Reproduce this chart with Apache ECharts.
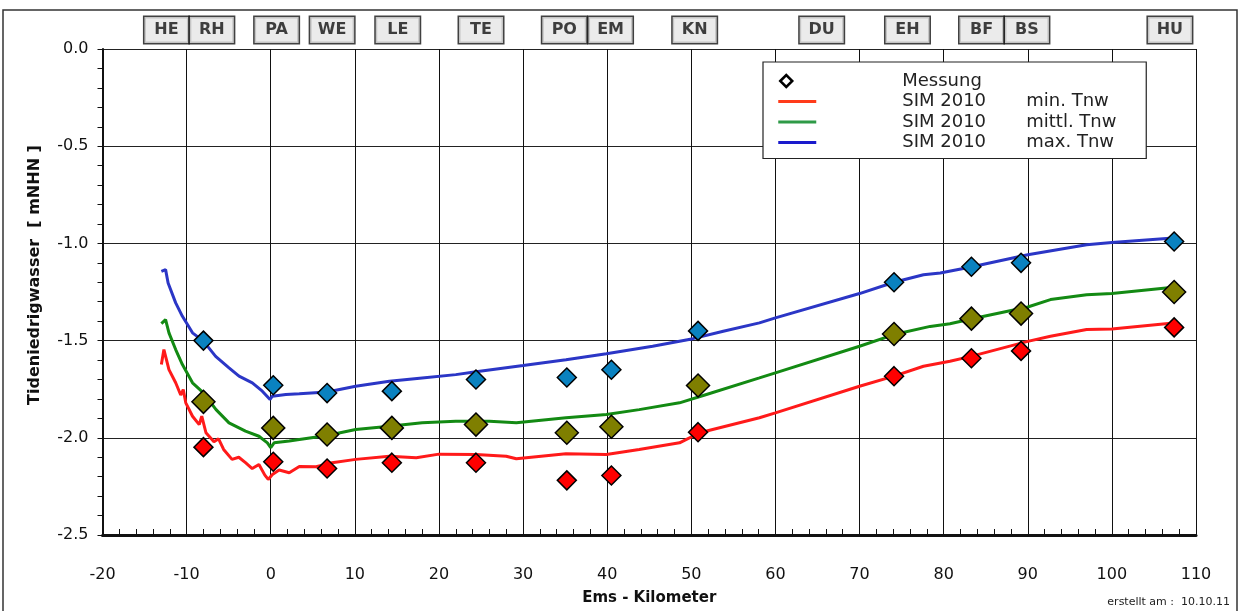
<!DOCTYPE html>
<html>
<head>
    <meta charset="utf-8">
    <title>Tideniedrigwasser Ems</title>
    <script src="https://cdn.jsdelivr.net/npm/echarts@6/dist/echarts.min.js"></script>
</head>
<body style="margin:0;background:#fff;">
<div id="main" style="width:1249px;height:611px;"></div>
<script type="text/javascript">

    // Pegelstationen (oben)
    var stationNames = ['HE', 'RH', 'PA', 'WE', 'LE', 'TE', 'PO', 'EM', 'KN', 'DU', 'EH', 'BF', 'BS', 'HU'];
    var stationKm = [-12.4, -7.0, 0.7, 7.3, 15.1, 25.0, 34.9, 40.4, 50.4, 65.5, 75.7, 84.5, 89.9, 106.9];

    // Messung an den Pegeln
    var measKm  = [-8.0, 0.3, 6.7, 14.4, 24.4, 35.2, 40.5, 50.8, 74.1, 83.3, 89.2, 107.4];
    var measMax = [-1.50, -1.73, -1.77, -1.76, -1.70, -1.69, -1.65, -1.45, -1.20, -1.12, -1.10, -0.99];
    var measMid = [-1.815, -1.949, -1.983, -1.949, -1.932, -1.974, -1.943, -1.731, -1.466, -1.387, -1.361, -1.25];
    var measMin = [-2.048, -2.123, -2.158, -2.128, -2.128, -2.219, -2.194, -1.971, -1.683, -1.591, -1.553, -1.432];

    // SIM 2010 Laengsschnitte [km, mNHN]
    var simMax = [[-13.0,-1.144],[-12.5,-1.135],[-12.2,-1.204],[-11.3,-1.306],[-10.5,-1.375],[-9.3,-1.46],
        [-8.0,-1.503],[-6.55,-1.581],[-4.96,-1.64],[-3.77,-1.683],[-2.19,-1.717],[-1.0,-1.76],[-0.08,-1.803],
        [0.19,-1.786],[1.8,-1.777],[3.4,-1.774],[6.7,-1.764],[10.1,-1.735],[14.1,-1.709],[18.0,-1.692],
        [22.0,-1.675],[24.4,-1.66],[30.0,-1.628],[35.1,-1.598],[39.9,-1.568],[45.4,-1.529],[50.2,-1.49],
        [53.8,-1.452],[58.1,-1.409],[60.0,-1.383],[70.0,-1.258],[74.1,-1.20],[77.6,-1.161],[79.6,-1.152],
        [83.25,-1.121],[90.0,-1.058],[97.0,-1.007],[100.0,-0.995],[107.3,-0.972]];
    var simMid = [[-13.0,-1.413],[-12.5,-1.392],[-12.1,-1.46],[-11.3,-1.546],[-10.5,-1.623],[-9.3,-1.717],
        [-8.0,-1.769],[-6.5,-1.855],[-4.96,-1.923],[-3.0,-1.966],[-1.4,-1.992],[-0.4,-2.026],[0.0,-2.051],
        [0.4,-2.026],[2.2,-2.017],[3.4,-2.009],[6.7,-1.988],[10.1,-1.957],[14.1,-1.94],[18.0,-1.923],
        [22.0,-1.915],[26.0,-1.915],[29.2,-1.923],[35.1,-1.897],[39.9,-1.88],[43.8,-1.855],[48.6,-1.82],
        [51.8,-1.777],[58.1,-1.692],[60.0,-1.666],[70.0,-1.529],[74.1,-1.469],[78.4,-1.427],[80.75,-1.413],
        [83.25,-1.389],[90.0,-1.327],[92.7,-1.289],[97.0,-1.264],[100.0,-1.258],[107.3,-1.226]];
    var simMin = [[-13.0,-1.623],[-12.7,-1.546],[-12.5,-1.538],[-12.1,-1.649],[-11.3,-1.717],[-10.7,-1.78],
        [-10.4,-1.752],[-10.1,-1.82],[-9.3,-1.889],[-8.5,-1.932],[-8.2,-1.889],[-7.7,-1.974],[-6.75,-2.02],
        [-6.2,-2.005],[-5.6,-2.06],[-4.6,-2.111],[-3.8,-2.10],[-3.0,-2.128],[-2.2,-2.158],[-1.4,-2.137],
        [-0.7,-2.192],[-0.3,-2.214],[0.2,-2.189],[1.0,-2.166],[2.2,-2.18],[3.4,-2.148],[5.4,-2.149],
        [7.3,-2.128],[10.1,-2.111],[14.1,-2.095],[17.3,-2.103],[20.0,-2.084],[24.4,-2.086],[28.0,-2.095],
        [29.2,-2.108],[35.1,-2.082],[39.9,-2.086],[43.8,-2.06],[48.6,-2.026],[51.0,-1.974],[58.1,-1.897],
        [60.0,-1.872],[70.0,-1.735],[74.1,-1.683],[77.6,-1.632],[80.75,-1.606],[83.25,-1.581],[90.0,-1.504],
        [92.7,-1.478],[97.0,-1.443],[100.0,-1.44],[107.3,-1.409]];

    var font = 'DejaVu Sans';
    var myChart = echarts.init(document.getElementById('main'));

    function pairs(xs, ys) {
        return xs.map(function (x, i) { return [x, ys[i]]; });
    }

    function measSeries(values, color, size) {
        return {
            name: 'Messung',
            type: 'scatter',
            symbol: 'diamond',
            symbolSize: size,
            z: 5,
            itemStyle: { color: color, borderColor: '#000', borderWidth: 1.5, opacity: 1 },
            data: pairs(measKm, values)
        };
    }

    function simSeries(name, data, color) {
        return {
            name: name,
            type: 'line',
            symbol: 'none',
            showSymbol: false,
            z: 3,
            lineStyle: { color: color, width: 3 },
            itemStyle: { color: color },
            data: data
        };
    }

    var lineIcon = 'path://M0,5.6L38,5.6L38,8.4L0,8.4Z M0,0 M38,14';

    option = {
        animation: false,
        backgroundColor: '#fff',
        grid: { left: 102.5, right: 53, top: 49, bottom: 75.5 },
        xAxis: {
            type: 'value',
            min: -20, max: 110, interval: 10,
            name: 'Ems - Kilometer',
            nameLocation: 'middle',
            nameGap: 56,
            nameTextStyle: { fontFamily: font, fontSize: 15, fontWeight: 'bold', color: '#111' },
            axisLine: { onZero: false, lineStyle: { color: '#111', width: 3 } },
            axisTick: { show: true, inside: true, length: 6, lineStyle: { color: '#111' } },
            minorTick: { show: true, splitNumber: 5, length: 6, lineStyle: { color: '#111', width: 1 } },
            axisLabel: { fontFamily: font, fontSize: 16, color: '#111', margin: 32 },
            splitLine: { show: true, lineStyle: { color: '#111', width: 1 } }
        },
        yAxis: {
            type: 'value',
            min: -2.5, max: 0, interval: 0.5,
            name: 'Tideniedrigwasser  [ mNHN ]',
            nameLocation: 'middle',
            nameGap: 60,
            nameTextStyle: { fontFamily: font, fontSize: 16, fontWeight: 'bold', color: '#111', padding: [0, 0, 0, 34] },
            axisLine: { show: true, onZero: false, lineStyle: { color: '#111', width: 2 } },
            axisTick: { show: true, inside: false, length: 5, lineStyle: { color: '#111' } },
            minorTick: { show: true, splitNumber: 5, length: 5, lineStyle: { color: '#111', width: 1 } },
            axisLabel: {
                fontFamily: font, fontSize: 16, color: '#111', margin: 14,
                formatter: function (v) { return v.toFixed(1); }
            },
            splitLine: { show: true, lineStyle: { color: '#222', width: 1.2 } }
        },
        legend: {
            orient: 'vertical',
            left: 763, top: 62,
            padding: [10, 10, 7, 14],
            itemGap: 2.5,
            itemWidth: 38, itemHeight: 14,
            backgroundColor: '#fff',
            borderColor: '#222', borderWidth: 1.2,
            selectedMode: false,
            z: 10,
            textStyle: {
                fontFamily: font, fontSize: 18, color: '#222',
                rich: {
                    s: { width: 81, fontFamily: font, fontSize: 18 },
                    a: { width: 124, fontFamily: font, fontSize: 18, color: '#222', lineHeight: 22 },
                    b: { width: 110, fontFamily: font, fontSize: 18, color: '#222', lineHeight: 22 }
                }
            },
            formatter: function (name) {
                if (name === 'Messung') return '{s|}{a|Messung}{b|}';
                return '{s|}{a|' + name.slice(0, 8) + '}{b|' + name.slice(9) + '}';
            },
            data: [
                {
                    name: 'Messung',
                    icon: 'path://M2,7L8,1L14,7L8,13Z M0,0 M38,14',
                    itemStyle: { color: 'rgba(0,0,0,0)', borderColor: '#000', borderWidth: 2.5 }
                },
                { name: 'SIM 2010 min. Tnw', icon: lineIcon, itemStyle: { color: '#ff3b1a', borderWidth: 0 } },
                { name: 'SIM 2010 mittl. Tnw', icon: lineIcon, itemStyle: { color: '#2e9a47', borderWidth: 0 } },
                { name: 'SIM 2010 max. Tnw', icon: lineIcon, itemStyle: { color: '#1a1acc', borderWidth: 0 } }
            ]
        },
        series: [
            simSeries('SIM 2010 min. Tnw', simMin, '#ff1a1a'),
            simSeries('SIM 2010 mittl. Tnw', simMid, '#138a13'),
            simSeries('SIM 2010 max. Tnw', simMax, '#2b36c6'),
            measSeries(measMax, '#0a82c0', 19),
            measSeries(measMid, '#7f7f00', 23),
            measSeries(measMin, '#ff0000', 19),
            {
                // Pegelkuerzel oberhalb der Zeichenflaeche
                type: 'scatter',
                silent: true,
                clip: false,
                symbolSize: 0,
                z: 6,
                itemStyle: { color: 'rgba(0,0,0,0)' },
                data: stationKm.map(function (k, i) {
                    return { name: stationNames[i], value: [k, 0.098] };
                }),
                label: {
                    show: true,
                    position: 'inside',
                    formatter: '{b}',
                    fontFamily: font, fontSize: 16, fontWeight: 'bold', color: '#111',
                    backgroundColor: '#e6e6e6',
                    borderColor: '#111', borderWidth: 1.5,
                    width: 44, height: 26, lineHeight: 26,
                    align: 'center', verticalAlign: 'middle',
                    padding: 0
                }
            }
        ],
        graphic: [
            {
                type: 'rect',
                silent: true,
                shape: { x: 3, y: 10, width: 1234, height: 612 },
                style: { fill: null, stroke: '#333', lineWidth: 1.5 }
            },
            {
                type: 'text',
                right: 19, top: 597,
                style: { text: 'erstellt am :  10.10.11', fontFamily: font, fontSize: 11, fill: '#222' }
            }
        ]
    };

    myChart.setOption(option);
</script>
</body>
</html>
